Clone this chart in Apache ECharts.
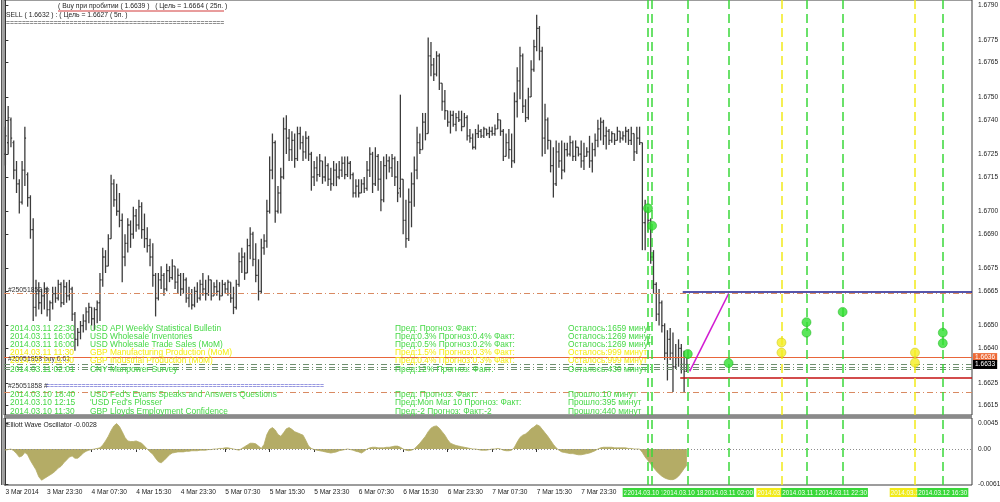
<!DOCTYPE html>
<html><head><meta charset="utf-8">
<script src="https://cdn.jsdelivr.net/npm/echarts@6.0.0/dist/echarts.min.js"></script>
<style>html,body{margin:0;padding:0;background:#fff}#c{width:1000px;height:502px}</style>
</head><body><div id="c"></div>
<script>
// ---- price bars (30-min), values in pips above BASE ----
const BASE = 1.66;
const OPEN = [125,130,140,130,118,112,104,118,116,106, 92,58,64,60,63,66,57,60,64,62, 68,60,67,63,66,55,44,47,50,52, 56,58,53,57,60,70,80,76,88,112, 105,100,96,80,86,94,90,98,94,102, 92,88,85,80,72,62,70,72,66,74, 71,76,69,72,66,70,62,64,59,65, 62,68,66,64,70,63,67,65,63,68, 66,69,62,58,68,78,80,73,85,90, 79,72,65,84,87,100,118,130,100,108, 115,136,132,127,131,123,134,130,126,132, 125,115,119,116,122,115,120,114,112,118, 115,118,121,116,121,116,108,111,108,112, 110,118,125,112,124,114,105,120,122,119, 123,115,110,114,96,88,104,112,118,130, 127,139,134,168,164,160,168,156,148,144, 139,142,138,141,140,137,141,133,132,128, 134,135,133,136,134,135,134,136,140,135, 124,130,127,122,148,157,168,146,141,150, 162,172,180,170,132,140,131,120,112,126, 122,118,127,125,130,124,128,125,122,124, 126,122,127,131,136,139,133,135,131,134, 131,135,132,133,135,131,134,126,132,130, 95,100,96,80,68,55,60,50,38,44, 38,32,36,40,33,30];
const CLOSE = [133,141,132,118,112,104,118,132,106,92, 58,64,60,63,66,57,60,64,62,68, 60,67,63,66,55,44,47,50,52,56, 58,53,57,60,70,80,76,88,112,105, 100,96,80,86,94,90,98,94,102,92, 88,85,80,72,62,70,72,66,74,71, 76,69,72,66,70,62,64,59,65,62, 68,66,64,70,63,67,65,63,68,66, 69,62,58,68,78,80,73,85,90,79, 72,65,84,87,100,118,130,100,108,115, 136,132,127,131,123,134,130,126,132,125, 115,119,116,122,115,120,114,112,118,115, 118,121,116,121,116,108,111,108,112,110, 118,125,112,124,114,105,120,122,119,123, 115,108,114,96,88,104,112,118,130,127, 139,134,168,164,160,168,156,148,144,139, 142,138,141,140,137,141,133,132,128,134, 135,133,136,134,135,134,136,140,135,124, 130,127,122,148,157,168,146,141,150,162, 172,180,170,132,140,131,120,112,126,122, 118,127,125,130,124,128,125,122,124,126, 122,127,131,136,139,133,135,131,134,131, 135,132,133,135,131,134,126,132,130,95, 100,96,80,68,55,60,50,38,44,38, 32,36,40,33,30,33];
const LOW = [120,125,128,114,108,99,103,111,102,88, 52,54,57,55,57,54,52,57,60,61, 58,59,60,61,52,39,41,44,47,48, 51,50,48,51,52,67,73,76,88,102, 98,93,69,76,82,84,88,91,92,88, 84,82,76,67,54,61,66,63,65,69, 70,66,64,63,64,60,58,57,58,60, 61,63,61,63,61,63,63,61,63,64, 63,60,55,57,67,73,70,73,79,76, 69,61,64,81,84,99,114,95,99,99, 114,125,122,122,119,122,127,122,123,122, 109,111,113,115,112,113,111,109,111,111, 114,115,114,115,114,106,106,106,108,108, 109,115,108,111,109,100,104,114,117,115, 111,104,106,90,84,87,93,102,114,125, 127,131,134,159,157,159,153,144,140,137, 134,137,135,139,135,137,131,130,127,127, 132,132,132,133,132,133,133,136,133,122, 124,123,119,121,141,149,143,139,140,150, 161,170,166,124,125,127,117,106,111,119, 114,117,124,124,122,122,124,119,118,124, 119,117,124,128,131,129,127,129,130,129, 131,130,131,130,129,129,122,125,129,83, 83,91,77,64,52,50,47,35,26,35, 21,31,32,29,21,30];
const HIGH = [137,146,141,131,122,114,122,137,117,107, 97,70,69,66,69,67,61,67,67,70, 69,70,69,70,67,56,49,52,55,58, 60,58,58,61,73,84,83,90,116,114, 112,108,99,90,97,96,102,101,105,104, 99,93,88,86,73,73,76,73,77,76, 79,76,75,73,73,71,67,66,67,69, 70,73,70,72,70,69,70,69,70,69, 70,69,67,70,82,84,82,88,93,91, 86,79,88,90,105,124,134,131,111,119, 141,142,136,135,134,137,137,133,135,133, 126,122,124,125,122,124,121,119,122,121, 122,124,124,124,122,117,114,114,114,115, 122,128,126,128,125,122,124,125,124,125, 124,122,151,114,105,110,117,124,137,134, 143,143,176,174,167,170,169,156,153,144, 144,144,143,144,144,143,142,136,134,136, 138,136,137,136,137,137,138,143,140,136, 134,136,134,152,163,172,169,149,154,166, 175,186,181,172,147,141,131,128,131,130, 131,130,130,133,131,131,128,131,130,128, 133,130,134,140,141,140,137,136,135,134, 137,135,135,137,136,137,134,137,137,130, 105,102,97,83,69,66,61,51,48,49, 47,42,44,42,39,36];
// ---- Elliott Wave Oscillator, units of 0.0001 ----
const EWO = [-2,-1,0,-3,-8,-14,-12,-6,-10,-20, -28,-36,-48,-54,-51,-48,-45,-42,-38,-33, -30,-24,-19,-14,-12,-16,-16,-12,-7,-4, -2,-1,0,1,2,7,14,22,32,40, 44,39,30,20,14,13,13,14,12,10, 5,0,-5,-9,-16,-22,-24,-20,-15,-10, -7,-6,-5,-5,-5,-4,-4,-3,-3,-3, -2,-2,-2,-1,-1,0,0,1,1,2, 2,1,0,-1,-2,1,4,7,10,10, 9,5,1,8,25,34,37,33,25,22, 28,35,37,34,30,28,26,24,15,5, 1,-1,-2,-3,-4,-5,-6,-7,-6,-5, -3,-2,-1,0,-1,-2,-4,-5,-7,-4, 0,2,3,3,2,2,2,3,3,4, 5,5,3,0,-2,-3,-2,0,5,10, 16,22,30,36,39,40,36,30,24,16, 10,8,6,5,4,3,2,1,0,0, -1,-2,-2,-2,-1,0,0,1,0,-2, -3,-3,-2,3,12,20,24,26,30,35, 38,42,40,34,28,22,15,8,2,-2, -5,-6,-7,-8,-8,-9,-10,-10,-9,-8, -7,-5,-3,0,2,3,3,3,3,2, 2,2,2,2,1,1,0,0,0,-6, -14,-20,-26,-32,-38,-43,-47,-50,-52,-53, -53,-51,-47,-41,-34,-28];

const SLOTS = 348;                       // bar slots on the time axis (incl. future)
const TIME_TICK_IDX = [0,15,31,47,63,79,95,111,127,143,159,175,191,207];
const TIME_TICK_LABELS = ['3 Mar 2014','3 Mar 23:30','4 Mar 07:30','4 Mar 15:30','4 Mar 23:30','5 Mar 07:30','5 Mar 15:30','5 Mar 23:30','6 Mar 07:30','6 Mar 15:30','6 Mar 23:30','7 Mar 07:30','7 Mar 15:30','7 Mar 23:30'];
const DAY_FIRST_IDX = {'2014.03.10':208,'2014.03.11':256,'2014.03.12':304};
const PRICE_TICKS = [1.6615,1.6625,1.6640,1.6650,1.6665,1.6675,1.6690,1.6700,1.6715,1.6725,1.6740,1.6750,1.6765,1.6775,1.6790];
const PRICE_VIEW = [1.66109, 1.67924];
const OSC_TICKS = [-0.0061, 0, 0.0045];
const OSC_VIEW = [-0.00623, 0.005365];

// ---- news events ----
const EVENT_TIMES = ['2014.03.10 11:30','2014.03.10 12:15','2014.03.10 18:40','2014.03.11 02:00','2014.03.11 11:30','2014.03.11 16:00','2014.03.11 22:30','2014.03.12 11:30','2014.03.12 16:30'];
const EVENT_KIND = ['g','g','g','g','y','g','g','y','g'];
const DOT_EVENT = [0,1,2,3,4,4,5,5,6,7,7,8,8];
const DOT_PRICE = [1.67013,1.66937,1.66376,1.66336,1.66426,1.66382,1.66515,1.66469,1.66560,1.66382,1.66338,1.66469,1.66423];

// ---- levels ----
const ORDER_LEVELS = [1.6664, 1.6621];
const ASK = 1.6636;
const BID_STACK = [1.6633, 1.6632, 1.6631];
const BUY_TARGET = {from: 243.5, price: 1.6665};
const SELL_TARGET = {from: 242.6, price: 1.6627};
const TREND = [[246, 1.6630], [260, 1.6664]];

const NEWS_FUTURE = [
 ['2014.03.11 22:30','USD API Weekly Statistical Bulletin','Пред: Прогноз: Факт:','Осталось:1659 минут','g'],
 ['2014.03.11 16:00','USD Wholesale Inventories','Пред:0.3% Прогноз:0.4% Факт:','Осталось:1269 минут','g'],
 ['2014.03.11 16:00','USD Wholesale Trade Sales (MoM)','Пред:0.5% Прогноз:0.2% Факт:','Осталось:1269 минут','g'],
 ['2014.03.11 11:30','GBP Manufacturing Production (MoM)','Пред:1.5% Прогноз:0.3% Факт:','Осталось:999 минут','y'],
 ['2014.03.11 11:30','GBP Industrial Production (MoM)','Пред:0.4% Прогноз:0.3% Факт:','Осталось:999 минут','y'],
 ['2014.03.11 02:01','CNY Manpower Survey','Пред:12% Прогноз: Факт:','Осталось:430 минут','g']
];
const NEWS_PAST = [
 ['2014.03.10 18:40',"USD Fed's Evans Speaks and Answers Questions",'Пред: Прогноз: Факт:','Прошло:10 минут'],
 ['2014.03.10 12:15',"'USD Fed's Plosser",'Пред:Mon Mar 10 Прогноз: Факт:','Прошло:395 минут'],
 ['2014.03.10 11:30','GBP Lloyds Employment Confidence','Пред:-2 Прогноз: Факт:-2','Прошло:440 минут']
];

// ---------------------------------------------------------------
const FONT = '"Liberation Sans", Arial, sans-serif';
const GREEN = '#3ad83a', YELLOW = '#f2ea1a', NEWS_G = '#46d846', NEWS_Y = '#f4ee10';
const toPrice = p => BASE + p / 10000;
function eventIndex(t) {
  const [d, hm] = t.split(' ');
  const [h, m] = hm.split(':').map(Number);
  return DAY_FIRST_IDX[d] + (h + m / 60) * 2;
}
const bars = OPEN.map((o, i) => [i, toPrice(o), toPrice(CLOSE[i]), toPrice(LOW[i]), toPrice(HIGH[i])]);
const ewo = EWO.map((v, i) => [i, v / 10000]);
const evIdx = EVENT_TIMES.map(eventIndex);

const LEFT_X = -0.5, RIGHT_X = SLOTS - 0.5;
const hLine = (p, style, label, from) => [
  {coord: [from == null ? LEFT_X : from, p], lineStyle: style, label: label || {show: false}},
  {coord: [RIGHT_X, p]}
];
const badge = (txt, bg) => ({show: true, position: 'end', formatter: txt, color: '#fff', backgroundColor: bg,
  fontSize: 6.6, fontFamily: FONT, padding: [1, 2, 1, 2], distance: 1});

const priceLines = [
  hLine(ORDER_LEVELS[0], {color: '#d98a62', width: 1, type: [6, 3, 1, 3]}),
  hLine(ORDER_LEVELS[1], {color: '#d98a62', width: 1, type: [6, 3, 1, 3]}),
  hLine(ASK, {color: '#e8663a', width: 1, type: 'solid'}, badge(ASK.toFixed(4), '#ee6a36')),
  hLine(BID_STACK[1], {color: '#6f8f6f', width: 1, type: [6, 3, 1, 3]}),
  hLine(BID_STACK[2], {color: '#6f8f6f', width: 1, type: [6, 3, 1, 3]}),
  hLine(BID_STACK[0], {color: '#6f8f6f', width: 1, type: [6, 3, 1, 3]}, badge(BID_STACK[0].toFixed(4), '#000')),
  hLine(BUY_TARGET.price, {color: '#1c1c8e', width: 1.6, type: 'solid'}, null, BUY_TARGET.from),
  hLine(SELL_TARGET.price, {color: '#c41010', width: 1.6, type: 'solid'}, null, SELL_TARGET.from),
  [{coord: TREND[0], lineStyle: {color: '#d21cd2', width: 1.5, type: 'solid'}, label: {show: false}}, {coord: TREND[1]}]
];

const eventLines = evIdx.map((x, k) => {
  const col = EVENT_KIND[k] === 'y' ? YELLOW : GREEN;
  return [
    {coord: [x, 0], lineStyle: {color: col, width: 1.5, type: [9, 5]},
     label: {show: true, position: 'start', formatter: EVENT_TIMES[k], color: '#f4fff4', backgroundColor: col,
       fontSize: 6.3, fontFamily: FONT, padding: [2, 1, 1, 1], distance: 3}},
    {coord: [x, 1]}
  ];
});

const dots = DOT_EVENT.map((e, k) => ({
  value: [evIdx[e], DOT_PRICE[k]],
  itemStyle: {color: EVENT_KIND[e] === 'y' ? '#f4ee22' : '#2fe02f', borderColor: EVENT_KIND[e] === 'y' ? '#c8c010' : '#1cae1c', borderWidth: 0.6}
}));

// ---- text overlays ----
const gText = (x, y, text, fill, size, extra) => Object.assign({
  type: 'text', x, y, z: 100, silent: true,
  style: {text, fill, font: size + 'px ' + FONT, verticalAlign: 'middle', align: 'left'}
}, extra || {});
const graphics = [
  {type: 'rect', shape: {x: 4, y: 415, width: 968, height: 3}, style: {fill: '#8a8a8a'}, z: 50, silent: true},
  {type: 'rect', shape: {x: 1, y: 0, width: 1.5, height: 485}, style: {fill: '#555'}, z: 50, silent: true},
  gText(58, 6, '( Buy при пробитии ( 1.6639 )   ( Цель = 1.6664 ( 25п. )', '#1e1e1e', 6.8),
  {type: 'line', shape: {x1: 58, y1: 11, x2: 224, y2: 11}, style: {stroke: '#d23a3a', lineWidth: 1}, z: 100, silent: true},
  gText(6, 15, 'SELL ( 1.6632 ) : ( Цель = 1.6627 ( 5п. )', '#1e1e1e', 6.8),
  gText(6, 23.5, '='.repeat(55), '#1e1e1e', 6.8),
  gText(8, 290, '#25051852 tp', '#333', 6.8),
  gText(8, 359, '#25051858 buy 0.01', '#333', 6.8),
  gText(8, 386, '#25051858 #', '#333', 6.8),
  gText(46, 386, '='.repeat(70), '#3434c4', 6.8),
  gText(6, 425, 'Elliott Wave Oscillator -0.0028', '#1e1e1e', 6.8)
];
NEWS_FUTURE.forEach((r, k) => {
  const y = 328.3 + k * 8.2, c = r[4] === 'y' ? NEWS_Y : NEWS_G;
  graphics.push(gText(10, y, r[0], c, 8.4), gText(90, y, r[1], c, 8.4), gText(395, y, r[2], c, 8.4), gText(568, y, r[3], c, 8.4));
});
NEWS_PAST.forEach((r, k) => {
  const y = 395 + k * 8.1;
  graphics.push(gText(10, y, r[0], NEWS_G, 8.4), gText(90, y, r[1], NEWS_G, 8.4), gText(395, y, r[2], NEWS_G, 8.4), gText(568, y, r[3], NEWS_G, 8.4));
});

const axisTxt = {fontSize: 6.6, color: '#222', fontFamily: FONT};
const option = {
  animation: false,
  backgroundColor: '#fff',
  grid: [
    {left: 4, top: 0, width: 968, height: 415, show: true, borderColor: '#3a3a3a', borderWidth: 1, outerBoundsMode: 'none'},
    {left: 4, top: 418, width: 968, height: 67, show: true, borderColor: '#3a3a3a', borderWidth: 1, outerBoundsMode: 'none'},
    {left: 4, top: 0, width: 968, height: 485, outerBoundsMode: 'none'}
  ],
  xAxis: [
    {gridIndex: 0, type: 'value', min: LEFT_X, max: RIGHT_X, show: false},
    {gridIndex: 1, type: 'value', min: LEFT_X, max: RIGHT_X, splitLine: {show: false}, axisLine: {show: false},
      axisTick: {show: true, length: 3, customValues: TIME_TICK_IDX, lineStyle: {color: '#333'}},
      axisLabel: Object.assign({customValues: TIME_TICK_IDX, align: 'left', margin: 4,
        formatter: v => TIME_TICK_LABELS[TIME_TICK_IDX.indexOf(Math.round(v))] || ''}, axisTxt)},
    {gridIndex: 2, type: 'value', min: LEFT_X, max: RIGHT_X, show: false}
  ],
  yAxis: [
    {gridIndex: 0, type: 'value', position: 'right', min: PRICE_VIEW[0], max: PRICE_VIEW[1], splitLine: {show: false},
      axisLine: {show: true, lineStyle: {color: '#333'}},
      axisTick: {show: true, length: 3, customValues: PRICE_TICKS, lineStyle: {color: '#333'}},
      axisLabel: Object.assign({customValues: PRICE_TICKS, margin: 6, formatter: v => v.toFixed(4)}, axisTxt)},
    {gridIndex: 1, type: 'value', position: 'right', min: OSC_VIEW[0], max: OSC_VIEW[1], splitLine: {show: false},
      axisLine: {show: true, lineStyle: {color: '#333'}},
      axisTick: {show: true, length: 3, customValues: OSC_TICKS, lineStyle: {color: '#333'}},
      axisLabel: Object.assign({customValues: OSC_TICKS, margin: 6, formatter: v => Math.abs(v) < 1e-9 ? '0.00' : v.toFixed(4)}, axisTxt)},
    {gridIndex: 2, type: 'value', min: 0, max: 1, show: false}
  ],
  series: [
    {type: 'custom', name: 'GBPUSD', xAxisIndex: 0, yAxisIndex: 0, z: 2, clip: true, silent: true,
      data: bars, encode: {x: 0, y: [1, 2, 3, 4]},
      renderItem: (params, api) => {
        const i = api.value(0);
        const pO = api.coord([i, api.value(1)]), pC = api.coord([i, api.value(2)]);
        const pL = api.coord([i, api.value(3)]), pH = api.coord([i, api.value(4)]);
        const x = pH[0];
        const st = {stroke: '#3c3c3c', lineWidth: 1.3};
        return {type: 'group', children: [
          {type: 'line', shape: {x1: x, y1: pH[1], x2: x, y2: pL[1]}, style: st},
          {type: 'line', shape: {x1: x - 1.2, y1: pO[1], x2: x, y2: pO[1]}, style: st},
          {type: 'line', shape: {x1: x, y1: pC[1], x2: x + 1.2, y2: pC[1]}, style: st}
        ]};
      }},
    {type: 'scatter', xAxisIndex: 0, yAxisIndex: 0, z: 3, symbolSize: 0, silent: true, data: [[-10, 0]],
      markLine: {silent: true, symbol: ['none', 'none'], animation: false, label: {show: false}, data: priceLines}},
    {type: 'line', xAxisIndex: 1, yAxisIndex: 1, z: 2, silent: true, data: ewo, showSymbol: false, symbol: 'none',
      lineStyle: {color: '#b4ac66', width: 0.8}, areaStyle: {color: '#b4ac66', opacity: 1},
      markLine: {silent: true, symbol: ['none', 'none'], animation: false, label: {show: false},
        lineStyle: {color: '#8c8c8c', type: [1, 2], width: 1}, data: [{yAxis: 0}]}},
    {type: 'scatter', xAxisIndex: 2, yAxisIndex: 2, z: 4, symbolSize: 0, silent: true, data: [[-10, -10]],
      markLine: {silent: true, symbol: ['none', 'none'], animation: false, data: eventLines}},
    {type: 'scatter', xAxisIndex: 0, yAxisIndex: 0, z: 6, symbolSize: 9, silent: true, data: dots}
  ],
  graphic: graphics
};
const chart = echarts.init(document.getElementById('c'), null, {renderer: 'canvas', width: 1000, height: 502});
chart.setOption(option);
</script></body></html>
